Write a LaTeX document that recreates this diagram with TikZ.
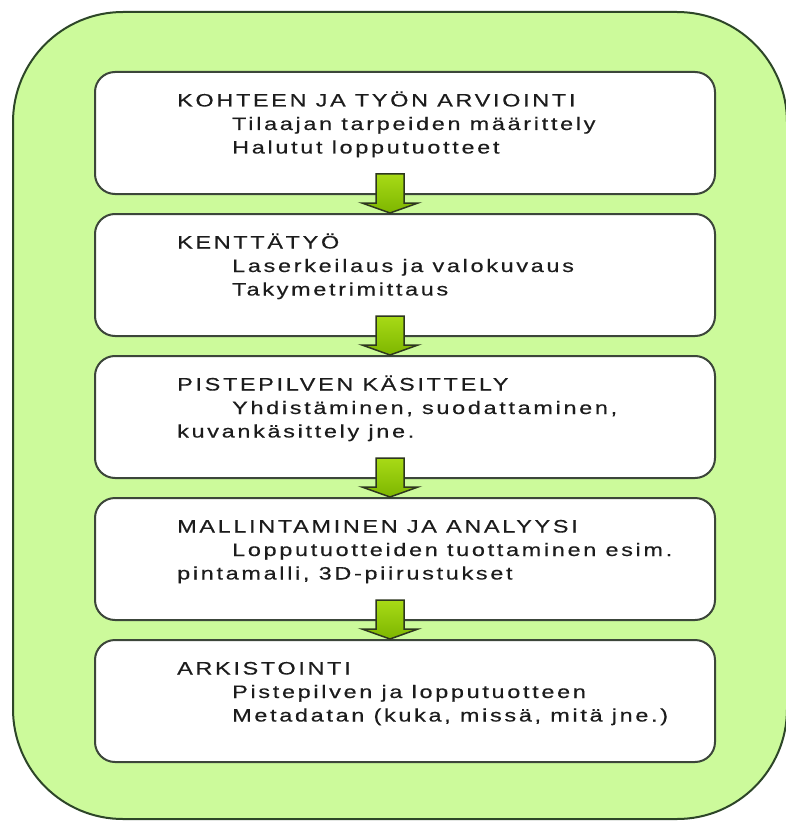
\documentclass[tikz,border=0pt]{standalone}
\usepackage{fontspec}
\usetikzlibrary{calc}
\newfontfamily\boxfont[FakeStretch=1.3,LetterSpace=15,FakeBold=0.4]{Liberation Sans}

\definecolor{panelgreen}{RGB}{204,250,155}
\definecolor{panelline}{RGB}{45,70,40}
\definecolor{boxline}{RGB}{60,70,58}
\definecolor{arrowtop}{RGB}{168,218,22}
\definecolor{arrowbot}{RGB}{125,182,0}
\definecolor{arrowline}{RGB}{45,55,30}
\definecolor{inktext}{RGB}{28,28,28}

\tikzset{
  panel/.style={fill=panelgreen, draw=panelline, line width=2pt, rounded corners=110pt},
  stagebox/.style={draw=boxline, fill=white, line width=2pt, rounded corners=20pt,
    rectangle, minimum width=620pt, minimum height=122pt, inner sep=0pt},
  txt/.style={anchor=base west, inner sep=0pt, text=inktext,
    font=\boxfont\fontsize{18}{23.5}\selectfont},
  flowarrow/.style={line width=1.5pt, draw=arrowline, line join=miter,
    top color=arrowtop, bottom color=arrowbot}
}

% draws the block arrow from the bottom of box #1 to the top of box #2
\newcommand\flowdown[2]{%
  \draw[flowarrow]
    ($(#1.south)+(-29,-21)$) -- ($(#1.south)+(-1,-21)$) --
    ($(#1.south)+(-1,8)$) -- ($(#1.south)+(13,8)$) --
    ($(#2.north)+(-15,0)$) --
    ($(#1.south)+(-43,8)$) -- ($(#1.south)+(-29,8)$) -- cycle;}

\begin{document}
\begin{tikzpicture}[x=1pt,y=-1pt]
\useasboundingbox (0,0) rectangle (786,821);
\fill[white] (0,0) rectangle (786,821);

% green background panel
\draw[panel] (13,12) rectangle (787,819);

% the five stage boxes
\node[stagebox] (b1) at (405,133) {};
\node[stagebox] (b2) at (405,275) {};
\node[stagebox] (b3) at (405,417) {};
\node[stagebox] (b4) at (405,559) {};
\node[stagebox] (b5) at (405,701) {};

% stage texts
\node[txt] (t1a) at ($(b1.north west)+(83,35.5)$) {KOHTEEN JA TYÖN ARVIOINTI};
\node[txt] (t1b) at ($(b1.north west)+(138,59)$) {Tilaajan tarpeiden määrittely};
\node[txt] (t1c) at ($(b1.north west)+(138,82.5)$) {Halutut lopputuotteet};

\node[txt] (t2a) at ($(b2.north west)+(83,35.5)$) {KENTTÄTYÖ};
\node[txt] (t2b) at ($(b2.north west)+(138,59)$) {Laserkeilaus ja valokuvaus};
\node[txt] (t2c) at ($(b2.north west)+(138,82.5)$) {Takymetrimittaus};

\node[txt] (t3a) at ($(b3.north west)+(83,35.5)$) {PISTEPILVEN KÄSITTELY};
\node[txt] (t3b) at ($(b3.north west)+(138,59)$) {Yhdistäminen, suodattaminen,};
\node[txt] (t3c) at ($(b3.north west)+(83,82.5)$) {kuvankäsittely jne.};

\node[txt] (t4a) at ($(b4.north west)+(83,35.5)$) {MALLINTAMINEN JA ANALYYSI};
\node[txt] (t4b) at ($(b4.north west)+(138,59)$) {Lopputuotteiden tuottaminen esim.};
\node[txt] (t4c) at ($(b4.north west)+(83,82.5)$) {pintamalli, 3D-piirustukset};

\node[txt] (t5a) at ($(b5.north west)+(83,35.5)$) {ARKISTOINTI};
\node[txt] (t5b) at ($(b5.north west)+(138,59)$) {Pistepilven ja lopputuotteen};
\node[txt] (t5c) at ($(b5.north west)+(138,82.5)$) {Metadatan (kuka, missä, mitä jne.)};

% block arrows between consecutive stages
\flowdown{b1}{b2}
\flowdown{b2}{b3}
\flowdown{b3}{b4}
\flowdown{b4}{b5}
\end{tikzpicture}
\end{document}
